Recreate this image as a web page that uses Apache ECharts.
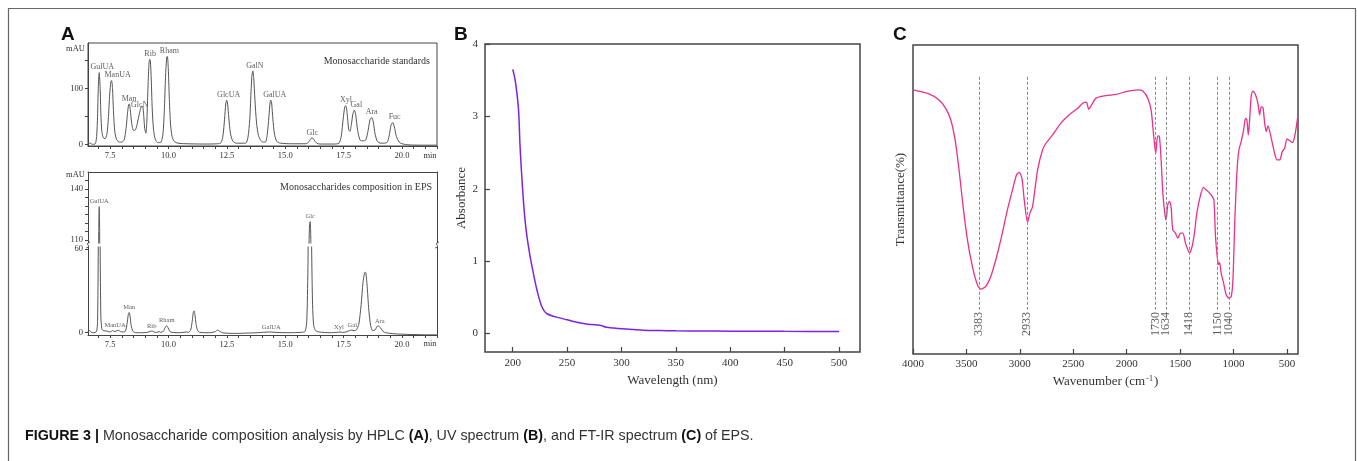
<!DOCTYPE html>
<html><head><meta charset="utf-8">
<script src="https://cdn.jsdelivr.net/npm/echarts@6/dist/echarts.min.js"></script>
<style>html,body{margin:0;padding:0;background:#fff;}#c{width:1357px;height:461px;}</style>
</head><body><div id="c"></div>
<script>
// ---------- Panel A: HPLC, monosaccharide standards (time min, mAU) ----------
const stdTrace = [
 [6.55,1],[6.6,1.5],[6.65,2.5],[6.7,0.5],[6.78,0],[6.85,0.5],
 [6.88,3],[6.92,14],[6.96,50],[6.99,100],[7.03,128],[7.07,100],[7.1,55],[7.14,24],[7.2,12],
 [7.28,10],[7.36,18],[7.42,45],[7.48,90],[7.53,112],[7.56,114],[7.6,100],[7.64,60],[7.7,22],[7.78,8],[7.9,4],[8.0,4],
 [8.1,8],[8.18,28],[8.24,55],[8.29,71],[8.32,72],[8.36,62],[8.42,38],[8.5,25],[8.56,25],
 [8.62,30],[8.7,45],[8.78,60],[8.85,68],[8.89,68],[8.94,50],[8.98,28],[9.03,20],
 [9.07,40],[9.11,90],[9.15,135],[9.19,152],[9.22,150],[9.26,115],[9.3,65],[9.36,25],[9.44,8],[9.55,3],
 [9.68,4],[9.76,18],[9.82,60],[9.87,120],[9.92,155],[9.95,157],[9.99,135],[10.03,85],[10.08,40],[10.15,14],[10.25,5],[10.4,2],
 [10.8,1],[11.5,0.5],[12.1,1],
 [12.25,3],[12.33,15],[12.4,45],[12.45,72],[12.49,79],[12.53,72],[12.58,48],[12.65,20],[12.75,6],[12.9,2],
 [13.3,2],[13.4,12],[13.48,45],[13.54,100],[13.58,126],[13.61,131],[13.65,118],[13.7,80],[13.77,38],[13.85,16],[13.95,7],[14.05,4],
 [14.15,4],[14.23,18],[14.3,50],[14.35,75],[14.38,79],[14.42,72],[14.47,45],[14.54,18],[14.64,5],[14.8,2],
 [15.3,1],[15.85,1],
 [15.95,2],[16.05,7],[16.12,11],[16.18,11],[16.25,7],[16.35,2],[16.5,0.5],
 [17.1,0.5],
 [17.3,2],[17.4,15],[17.48,45],[17.55,67],[17.6,69],[17.65,55],[17.72,26],[17.77,23],
 [17.83,35],[17.9,55],[17.96,61],[18.02,52],[18.1,25],[18.2,8],[18.3,6],
 [18.45,8],[18.55,25],[18.63,44],[18.7,48],[18.77,40],[18.85,18],[18.95,5],[19.1,2],
 [19.35,3],[19.45,15],[19.53,34],[19.6,39],[19.67,32],[19.76,14],[19.88,4],[20.0,1],
 [20.3,-1],[20.8,-1.5],[21.5,-1.5]
];
const stdPeakNames   = ['GulUA','ManUA','Man','GlcN','Rib','Rham','GlcUA','GalN','GalUA','Glc','Xyl','Gal','Ara','Fuc'];
const stdPeakTimes   = [7.03, 7.56, 8.31, 8.89, 9.21, 9.95, 12.49, 13.61, 14.38, 16.16, 17.6, 17.96, 18.7, 19.6];
const stdPeakHeights = [128, 114, 72, 68, 152, 157, 79, 131, 79, 11, 69, 61, 48, 39];

// ---------- Panel A: HPLC, EPS sample ----------
const epsTrace = [
 [6.47,0],[6.55,0.5],[6.62,1.5],[6.68,0.5],[6.75,0],[6.85,0.2],
 [6.92,1],[6.96,8],[6.99,60],[7.01,115],[7.03,129.6],[7.05,115],[7.07,60],[7.1,12],[7.14,3],[7.2,1.5],
 [7.35,1.2],[7.5,0.5],[7.6,1.5],[7.7,0.8],[7.85,1.8],[7.95,0.8],[8.05,0.5],
 [8.15,1],[8.22,6],[8.27,12.5],[8.31,14.4],[8.35,12],[8.4,5],[8.48,1],[8.6,0],
 [8.9,0],[9.1,0.3],
 [9.22,1.0],[9.3,1.2],[9.38,0.5],[9.5,0.2],[9.59,0.8],[9.66,0.3],
 [9.78,1],[9.85,3.5],[9.92,5],[9.98,3.5],[10.05,1],[10.15,0.2],
 [10.5,0],[10.75,0.5],[10.85,0.3],
 [10.95,2],[11.02,9],[11.06,14.5],[11.09,15.6],[11.13,13],[11.18,6],[11.25,1.5],[11.35,0.2],
 [11.8,0],[12.0,0.8],[12.1,1.9],[12.2,0.8],[12.35,-0.2],
 [12.9,-0.5],[13.3,-0.3],[13.8,0],[14.35,0.5],[14.6,0.2],[15.2,0],[15.7,0.3],
 [15.85,1],[15.92,8],[15.97,45],[16.0,95],[16.04,119],[16.07,120.8],[16.1,105],[16.13,60],[16.17,20],[16.22,5],[16.3,1.5],[16.45,0.5],
 [16.9,0],[17.25,0.3],[17.35,0.5],[17.45,0.2],[17.6,0.5],
 [17.75,1.5],[17.85,1.8],[17.95,1.5],[18.05,2],
 [18.15,6],[18.25,20],[18.33,36],[18.4,43],[18.44,43.3],[18.5,35],[18.58,16],[18.66,5],[18.74,1.5],
 [18.85,2],[18.93,4.5],[19.0,4.8],[19.08,3.5],[19.18,1],[19.3,0],
 [19.7,-0.8],[20.2,-1.2],[21.0,-1.5],[21.5,-1.5]
];
const epsPeakNames   = ['GulUA','ManUA','Man','Rib','Rham','GalUA','Glc','Xyl','Gal','Ara'];
const epsPeakTimes   = [7.03, 7.71, 8.31, 9.28, 9.92, 14.4, 16.07, 17.3, 17.87, 19.05];
const epsPeakHeights = [129.6, 1.8, 14.4, 1.2, 5, 0.6, 120.8, 0.6, 2.0, 4.8];

const hplcTicks  = [7,7.5,8,8.5,9,9.5,10,10.5,11,11.5,12,12.5,13,13.5,14,14.5,15,15.5,16,16.5,17,17.5,18,18.5,19,19.5,20,20.5,21,21.5];
const hplcLabels = [7.5,10,12.5,15,17.5,20];
const stdYTicks  = [0,50,100,150];
const stdYLabels = [0,100];
const epsUpperTicks  = [110,115,120,125,130,135,140,145];
const epsUpperLabels = [110,140];
const epsLowerTicks  = [0,60];

// ---------- Panel B: UV spectrum ----------
const uvWavelength = [200,202,204,205.5,206.7,208,209.5,211.3,213,214.5,216.5,219,221.5,224,226.5,229,232,236,242,250,258,265,272,280,286,293,300,310,320,335,350,375,400,450,500];
const uvAbsorbance = [3.65,3.52,3.3,3.05,2.6,2.25,1.9,1.57,1.35,1.2,1.02,0.83,0.65,0.5,0.38,0.31,0.27,0.245,0.22,0.19,0.16,0.14,0.125,0.115,0.088,0.075,0.065,0.055,0.047,0.042,0.038,0.035,0.033,0.03,0.028];
const uvXTicks = [200,250,300,350,400,450,500];
const uvYTicks = [0,1,2,3,4];

// ---------- Panel C: FT-IR spectrum ----------
const irWavenumber = [4000,3850,3756,3694,3647,3606,3569,3531,3491,3444,3397,3366,3319,3272,3225,3178,3116,3069,3031,3006,2981,2959,2928,2906,2881,2834,2787,2756,2694,2616,2538,2459,2397,2375,2356,2334,2287,2194,2100,2006,1897,1850,1803,1772,1750,1737,1728,1719,1709,1694,1678,1662,1644,1631,1616,1600,1584,1569,1544,1522,1497,1475,1450,1428,1413,1388,1366,1344,1312,1281,1256,1231,1200,1184,1169,1153,1141,1131,1116,1094,1069,1044,1022,1006,988,969,950,928,906,888,875,862,850,834,819,794,772,756,741,725,709,694,678,647,616,594,569,544,522,500,475,450,428,397];
const irTransmittance = [85.5,84.2,82.2,79.5,75.8,69.3,59.6,47.7,37.0,28.3,22.4,21.0,21.9,25.1,30.5,37.0,46.7,53.1,58.0,58.8,56.9,49.9,42.6,45.6,47.7,59.6,66.1,68.2,70.9,74.7,77.4,79.5,81.4,81.4,79.2,80.3,82.8,83.6,84.0,84.9,85.5,85.1,82.8,79.0,71.5,67.1,65.0,68.2,70.6,70.4,62.8,52.1,45.6,43.4,48.3,49.4,47.2,40.2,39.1,37.5,39.1,39.1,35.9,33.7,32.7,34.8,39.1,45.6,51.0,53.9,53.1,52.3,51.0,49.9,38.0,31.6,28.9,29.6,26.2,23.0,19.2,18.1,18.6,24.0,43.4,58.5,66.1,68.8,72.5,76.3,75.7,70.9,75.7,83.8,85.1,83.8,81.1,77.4,80.0,79.8,74.7,72.0,73.8,69.8,65.0,62.8,62.8,65.5,66.6,69.5,69.1,68.4,70.4,77.4];
const irBands  = [3383,2933,1730,1634,1418,1150,1040];
const irXTicks = [4000,3500,3000,2500,2000,1500,1000,500];

// ---------- styling ----------
const SERIF = 'Liberation Serif';
const SANS = 'Liberation Sans';
const AX = '#444';
const TXT = '#333';
const stdLabelOffset = {GulUA:[3,0], ManUA:[6,0], GlcN:[-3,4], Rham:[2,0], GlcUA:[2,0], GalN:[2,0], GalUA:[4,0], Gal:[2,0], Fuc:[2,0]};

const hplcX = (gridIndex, opts) => Object.assign({
  type:'value', gridIndex, min:6.55, max:21.5,
  splitLine:{show:false},
  axisLine:{show:true, onZero:false, lineStyle:{color:AX, width:1}},
  axisTick:{show:true, length:3, customValues:hplcTicks, lineStyle:{color:AX}},
  axisLabel:{show:true, customValues:hplcLabels, formatter:v=>v.toFixed(1), fontFamily:SERIF, fontSize:8.5, color:TXT, margin:5}
}, opts||{});

const stdLabels = stdPeakNames.map((n,i)=>({
  value:[stdPeakTimes[i], stdPeakHeights[i]], name:n,
  label:{offset: stdLabelOffset[n] || [0,0]}
}));
const epsUpper = [], epsLower = [];
epsPeakNames.forEach((n,i)=>{
  const item = {value:[epsPeakTimes[i], epsPeakHeights[i]], name:n};
  (epsPeakHeights[i] > 100 ? epsUpper : epsLower).push(item);
});

const labelSeries = (xi, yi, data, fs) => ({
  type:'scatter', xAxisIndex:xi, yAxisIndex:yi, data, symbolSize:1,
  itemStyle:{color:'rgba(0,0,0,0)'}, silent:true,
  label:{show:true, position:'top', distance:1, formatter:p=>p.name, fontFamily:SERIF, fontSize:fs, color:TXT}
});

const breakMark = (x, y) => ({
  type:'polyline', shape:{points:[[x-2,y+3],[x+0.5,y+1.5],[x-0.5,y-1.5],[x+2,y-3]], smooth:0.5},
  style:{stroke:AX, fill:null, lineWidth:1}
});

const option = {
  animation:false,
  grid:[
    {left:88, top:43, width:349, height:103, show:true, borderColor:AX, borderWidth:1},
    {left:88, top:172, width:349, height:71},
    {left:88, top:247, width:349, height:88},
    {left:485, top:44, width:375, height:308, show:true, borderColor:AX, borderWidth:1.5},
    {left:913, top:45, width:385, height:309, show:true, borderColor:AX, borderWidth:1.5}
  ],
  xAxis:[
    hplcX(0),
    hplcX(1, {position:'top', axisTick:{show:false}, axisLabel:{show:false}}),
    hplcX(2),
    {type:'value', gridIndex:3, min:174.5, max:519.3, splitLine:{show:false},
     axisLine:{show:false, onZero:false},
     axisTick:{show:true, inside:true, length:5, customValues:uvXTicks, lineStyle:{color:AX, width:1.2}},
     axisLabel:{customValues:uvXTicks, fontFamily:SERIF, fontSize:11, color:TXT, margin:6},
     name:'Wavelength (nm)', nameLocation:'middle', nameGap:19,
     nameTextStyle:{fontFamily:SERIF, fontSize:13, color:TXT}},
    {type:'value', gridIndex:4, min:397, max:4000, inverse:true, splitLine:{show:false},
     axisLine:{show:false, onZero:false},
     axisTick:{show:true, inside:true, length:5, customValues:irXTicks, lineStyle:{color:AX, width:1.2}},
     axisLabel:{customValues:irXTicks, formatter:v=>String(v), fontFamily:SERIF, fontSize:11, color:TXT, margin:5},
     name:'{a|Wavenumber (cm}{s|-1}{a|)}', nameLocation:'middle', nameGap:20,
     nameTextStyle:{fontFamily:SERIF, fontSize:13, color:TXT,
       rich:{a:{fontFamily:SERIF, fontSize:13, color:TXT}, s:{fontFamily:SERIF, fontSize:8, color:TXT, verticalAlign:'top', padding:[0,1,6,1]}}}}
  ],
  yAxis:[
    {type:'value', gridIndex:0, min:-3, max:181, splitLine:{show:false},
     axisLine:{show:true, onZero:false, lineStyle:{color:AX}},
     axisTick:{show:true, length:3, customValues:stdYTicks, lineStyle:{color:AX}},
     axisLabel:{customValues:stdYLabels, fontFamily:SERIF, fontSize:8.5, color:TXT, margin:5}},
    {type:'value', gridIndex:1, min:108.2, max:150, splitLine:{show:false},
     axisLine:{show:true, onZero:false, lineStyle:{color:AX}},
     axisTick:{show:true, length:3, customValues:epsUpperTicks, lineStyle:{color:AX}},
     axisLabel:{customValues:epsUpperLabels, fontFamily:SERIF, fontSize:8.5, color:TXT, margin:5}},
    {type:'value', gridIndex:1, position:'right', min:0, max:1, splitLine:{show:false},
     axisLine:{show:true, onZero:false, lineStyle:{color:AX}}, axisTick:{show:false}, axisLabel:{show:false}},
    {type:'value', gridIndex:2, min:-1.65, max:61.4, splitLine:{show:false},
     axisLine:{show:true, onZero:false, lineStyle:{color:AX}},
     axisTick:{show:true, length:3, customValues:epsLowerTicks, lineStyle:{color:AX}},
     axisLabel:{customValues:epsLowerTicks, fontFamily:SERIF, fontSize:8.5, color:TXT, margin:5}},
    {type:'value', gridIndex:2, position:'right', min:0, max:1, splitLine:{show:false},
     axisLine:{show:true, onZero:false, lineStyle:{color:AX}}, axisTick:{show:false}, axisLabel:{show:false}},
    {type:'value', gridIndex:3, min:-0.255, max:4, splitLine:{show:false},
     axisLine:{show:false, onZero:false},
     axisTick:{show:true, inside:true, length:5, customValues:uvYTicks, lineStyle:{color:AX, width:1.2}},
     axisLabel:{customValues:uvYTicks, fontFamily:SERIF, fontSize:11, color:TXT, margin:7},
     name:'Absorbance', nameLocation:'middle', nameGap:17,
     nameTextStyle:{fontFamily:SERIF, fontSize:13, color:TXT}},
    {type:'value', gridIndex:4, min:0, max:100, splitLine:{show:false},
     axisLine:{show:false, onZero:false}, axisTick:{show:false}, axisLabel:{show:false},
     name:'Transmittance(%)', nameLocation:'middle', nameGap:6,
     nameTextStyle:{fontFamily:SERIF, fontSize:13, color:TXT}}
  ],
  series:[
    {type:'line', xAxisIndex:0, yAxisIndex:0, data:stdTrace, symbol:'none', smooth:0.25,
     lineStyle:{color:'#555', width:1}, silent:true},
    labelSeries(0, 0, stdLabels, 8),
    {type:'line', xAxisIndex:1, yAxisIndex:1, data:epsTrace, symbol:'none', smooth:0.25,
     lineStyle:{color:'#555', width:1}, silent:true},
    {type:'line', xAxisIndex:2, yAxisIndex:3, data:epsTrace, symbol:'none', smooth:0.25,
     lineStyle:{color:'#555', width:1}, silent:true},
    labelSeries(1, 1, epsUpper, 6.5),
    labelSeries(2, 3, epsLower, 6.5),
    {type:'line', xAxisIndex:3, yAxisIndex:5, data:uvWavelength.map((w,i)=>[w, uvAbsorbance[i]]),
     symbol:'none', smooth:0.3, lineStyle:{color:'#7B24E6', width:1.5}, silent:true},
    {type:'line', xAxisIndex:4, yAxisIndex:6, data:irWavenumber.map((w,i)=>[w, irTransmittance[i]]),
     symbol:'none', smooth:0.25, lineStyle:{color:'#EC2F8C', width:1.3}, silent:true,
     markLine:{symbol:'none', silent:true, label:{show:false},
       lineStyle:{color:'#888', width:1, type:[3,2]},
       data: irBands.map(b=>[{coord:[b, 89.7]},{coord:[b, 14.3]}])}},
    {type:'scatter', xAxisIndex:4, yAxisIndex:6, data:irBands.map(b=>[b, 9.73]), symbolSize:1,
     itemStyle:{color:'rgba(0,0,0,0)'}, silent:true,
     label:{show:true, position:'inside', rotate:90, formatter:p=>String(p.value[0]),
       fontFamily:SERIF, fontSize:12, color:TXT}}
  ],
  graphic:[
    {type:'rect', shape:{x:8.5, y:8.5, width:1347, height:480}, style:{fill:null, stroke:'#666', lineWidth:1.2}, silent:true},
    {type:'text', x:61, y:35, style:{text:'A', font:'bold 19px '+SANS, fill:'#111', textAlign:'left', textVerticalAlign:'middle', align:'left', verticalAlign:'middle'}},
    {type:'text', x:454, y:35, style:{text:'B', font:'bold 19px '+SANS, fill:'#111', textAlign:'left', textVerticalAlign:'middle', align:'left', verticalAlign:'middle'}},
    {type:'text', x:893, y:35, style:{text:'C', font:'bold 19px '+SANS, fill:'#111', textAlign:'left', textVerticalAlign:'middle', align:'left', verticalAlign:'middle'}},
    {type:'text', x:85, y:49, style:{text:'mAU', font:'8.5px '+SERIF, fill:TXT, textAlign:'right', textVerticalAlign:'middle', align:'right', verticalAlign:'middle'}},
    {type:'text', x:85, y:175, style:{text:'mAU', font:'8.5px '+SERIF, fill:TXT, textAlign:'right', textVerticalAlign:'middle', align:'right', verticalAlign:'middle'}},
    {type:'text', x:430, y:156, style:{text:'min', font:'8.5px '+SERIF, fill:TXT, textAlign:'center', textVerticalAlign:'middle', align:'center', verticalAlign:'middle'}},
    {type:'text', x:430, y:344, style:{text:'min', font:'8.5px '+SERIF, fill:TXT, textAlign:'center', textVerticalAlign:'middle', align:'center', verticalAlign:'middle'}},
    {type:'text', x:430, y:61, style:{text:'Monosaccharide standards', font:'10px '+SERIF, fill:TXT, textAlign:'right', textVerticalAlign:'middle', align:'right', verticalAlign:'middle'}},
    {type:'text', x:432, y:187, style:{text:'Monosaccharides composition in EPS', font:'10px '+SERIF, fill:TXT, textAlign:'right', textVerticalAlign:'middle', align:'right', verticalAlign:'middle'}},
    {type:'rect', shape:{x:86, y:243, width:4, height:4}, style:{fill:'#fff'}, silent:true},
    {type:'rect', shape:{x:435, y:243, width:4, height:4}, style:{fill:'#fff'}, silent:true},
    breakMark(88, 245),
    breakMark(437, 245),
    {type:'text', x:25, y:436, style:{
      text:'{b|FIGURE 3 |} {r|Monosaccharide composition analysis by HPLC }{b|(A)}{r|, UV spectrum }{b|(B)}{r|, and FT-IR spectrum }{b|(C)}{r| of EPS.}',
      font:'14.3px '+SANS, fill:'#222', textAlign:'left', textVerticalAlign:'middle', align:'left', verticalAlign:'middle',
      rich:{b:{fontFamily:SANS, fontSize:14.3, fontWeight:'bold', fill:'#111', color:'#111'}, r:{fontFamily:SANS, fontSize:14.3, fill:'#333', color:'#333'}}}}
  ]
};
echarts.init(document.getElementById('c'), null, {renderer:'canvas'}).setOption(option);
</script></body></html>
